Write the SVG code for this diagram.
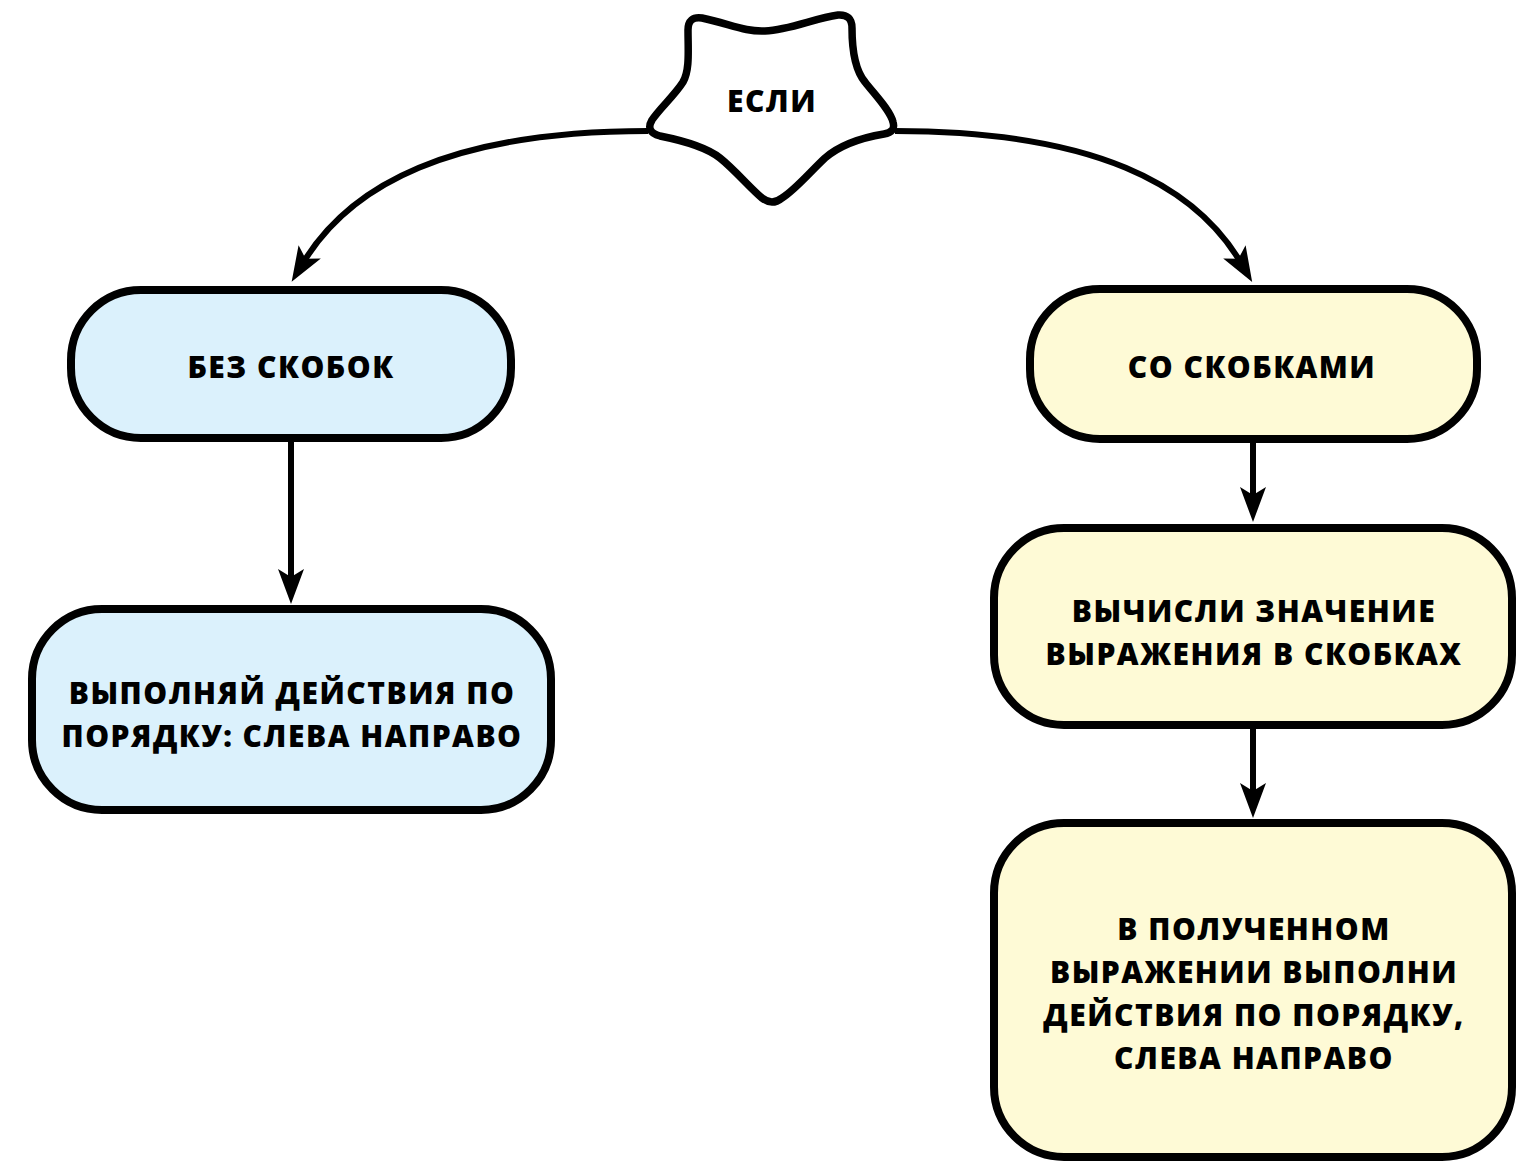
<svg xmlns="http://www.w3.org/2000/svg" width="1528" height="1169" viewBox="0 0 1528 1169">
<style>
.box{stroke:#000;stroke-width:8}
.blue{fill:#dbf1fc}
.yellow{fill:#fefad6}
.lbl{font-family:"Open Sans","Noto Sans",sans-serif;font-weight:800;font-size:30px;letter-spacing:1.5px;text-anchor:middle;fill:#000}
.edge{fill:none;stroke:#000;stroke-width:6}
</style>
<defs>
<marker id="ah" viewBox="-37 -15 39 30" refX="-22" refY="0" markerWidth="39" markerHeight="30" markerUnits="userSpaceOnUse" orient="auto">
<path d="M0,0 L-35,-13 L-27,0 L-35,13 Z" fill="#000"/>
</marker>
</defs>
<rect width="1528" height="1169" fill="#fff"/>
<g id="connectors">
<path class="edge" d="M648,131 C450,131 350,185 303,263" marker-end="url(#ah)"/>
<path class="edge" d="M895,131 C1095,131 1195,185 1241,263" marker-end="url(#ah)"/>
<path class="edge" d="M291,441 L291,582" marker-end="url(#ah)"/>
<path class="edge" d="M1253,441 L1253,500" marker-end="url(#ah)"/>
<path class="edge" d="M1253,728 L1253,796" marker-end="url(#ah)"/>
</g>
<g id="node-esli">
<path d="M688,30 Q688,16 702,18 C730,24 745,32 765,31 C790,30 815,18 838,15 Q852,14 852,28 C852,50 855,70 865,82 C875,95 890,110 893,122 Q896,132 884,134 C860,138 840,145 825,158 C810,172 795,190 782,198 Q772,206 762,198 C750,188 735,170 720,158 C705,146 680,140 660,136 Q645,132 652,120 C660,108 675,95 683,82 C690,70 688,50 688,30 Z" fill="#fff" stroke="#000" stroke-width="7.5" stroke-linejoin="round"/>
<text class="lbl" x="772" y="112">ЕСЛИ</text>
</g>
<g id="node-bez">
<rect class="box blue" x="71" y="290" width="440" height="148" rx="70"/>
<text class="lbl" x="291" y="378">БЕЗ СКОБОК</text>
</g>
<g id="node-vypolnyay">
<rect class="box blue" x="32" y="609" width="519" height="201" rx="70"/>
<text class="lbl" x="292" y="704">ВЫПОЛНЯЙ ДЕЙСТВИЯ ПО</text>
<text class="lbl" x="292" y="747">ПОРЯДКУ: СЛЕВА НАПРАВО</text>
</g>
<g id="node-so">
<rect class="box yellow" x="1030" y="289" width="447" height="150" rx="70"/>
<text class="lbl" x="1252" y="378">СО СКОБКАМИ</text>
</g>
<g id="node-vychisli">
<rect class="box yellow" x="994" y="528" width="518" height="197" rx="70"/>
<text class="lbl" x="1254" y="622">ВЫЧИСЛИ ЗНАЧЕНИЕ</text>
<text class="lbl" x="1254" y="665">ВЫРАЖЕНИЯ В СКОБКАХ</text>
</g>
<g id="node-poluch">
<rect class="box yellow" x="994" y="823" width="518" height="334" rx="70"/>
<text class="lbl" x="1254" y="940">В ПОЛУЧЕННОМ</text>
<text class="lbl" x="1254" y="983">ВЫРАЖЕНИИ ВЫПОЛНИ</text>
<text class="lbl" x="1254" y="1026">ДЕЙСТВИЯ ПО ПОРЯДКУ,</text>
<text class="lbl" x="1254" y="1069">СЛЕВА НАПРАВО</text>
</g>
</svg>
